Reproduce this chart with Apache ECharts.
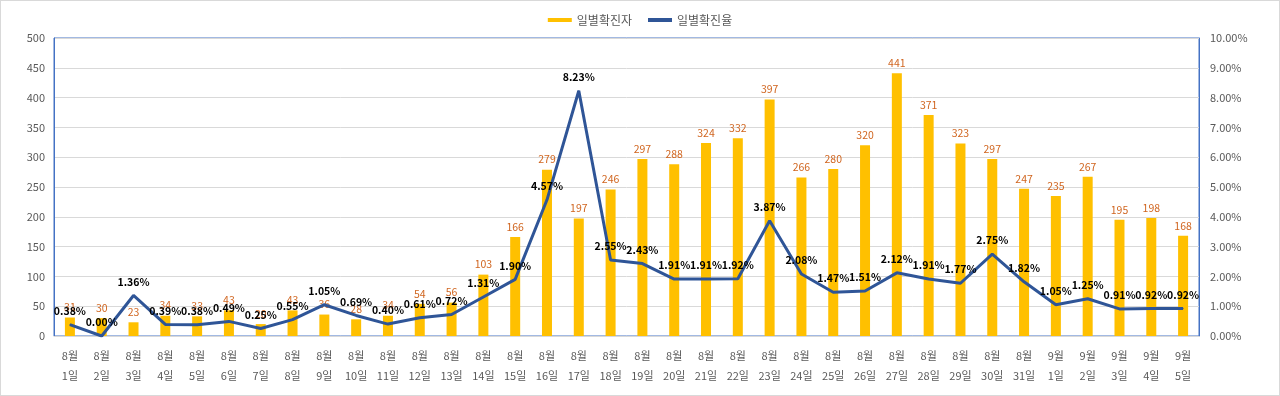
<!DOCTYPE html>
<html>
<head>
<meta charset="utf-8">
<script src="https://cdn.jsdelivr.net/npm/echarts@6/dist/echarts.min.js"></script>
<style>
html, body { margin: 0; padding: 0; background: #fff; }
#chart { width: 1278px; height: 394px; border: 1px solid #d9d9d9; }
</style>
</head>
<body>
<div id="chart"></div>
<script>
var days = ['8월\n1일','8월\n2일','8월\n3일','8월\n4일','8월\n5일','8월\n6일','8월\n7일','8월\n8일','8월\n9일','8월\n10일',
    '8월\n11일','8월\n12일','8월\n13일','8월\n14일','8월\n15일','8월\n16일','8월\n17일','8월\n18일','8월\n19일','8월\n20일',
    '8월\n21일','8월\n22일','8월\n23일','8월\n24일','8월\n25일','8월\n26일','8월\n27일','8월\n28일','8월\n29일','8월\n30일',
    '8월\n31일','9월\n1일','9월\n2일','9월\n3일','9월\n4일','9월\n5일'];
var cases = [31, 30, 23, 34, 33, 43, 20, 43, 36, 28, 34, 54, 56, 103, 166, 279, 197, 246, 297, 288,
    324, 332, 397, 266, 280, 320, 441, 371, 323, 297, 247, 235, 267, 195, 198, 168];
var rate = [0.38, 0.00, 1.36, 0.39, 0.38, 0.49, 0.25, 0.55, 1.05, 0.69, 0.40, 0.61, 0.72, 1.31, 1.90, 4.57, 8.23, 2.55, 2.43, 1.91,
    1.91, 1.92, 3.87, 2.08, 1.47, 1.51, 2.12, 1.91, 1.77, 2.75, 1.82, 1.05, 1.25, 0.91, 0.92, 0.92];

var chart = echarts.init(document.getElementById('chart'));
var font = '"Noto Sans CJK KR", "Noto Sans", sans-serif';
var option = {
    textStyle: { fontFamily: font },
    legend: {
        top: 8,
        left: 'center',
        itemWidth: 24,
        itemHeight: 4,
        itemGap: 16,
        textStyle: { color: '#595959', fontSize: 12, fontFamily: font },
        data: [
            { name: '일별확진자', icon: 'rect' },
            { name: '일별확진율', icon: 'rect' }
        ]
    },
    grid: {
        left: 53, right: 80, top: 37, bottom: 59,
        show: true,
        borderColor: '#4472c4',
        borderWidth: 1
    },
    xAxis: {
        type: 'category',
        data: days,
        axisTick: { show: false },
        axisLine: { lineStyle: { color: '#d9d9d9' } },
        axisLabel: { color: '#595959', fontSize: 11, lineHeight: 20, margin: 10, interval: 0, fontFamily: font }
    },
    yAxis: [
        {
            type: 'value',
            min: 0, max: 500, interval: 50,
            axisLine: { show: true, lineStyle: { color: '#4472c4' } },
            splitLine: { lineStyle: { color: '#d9d9d9' } },
            axisLabel: { color: '#595959', fontSize: 11, margin: 9, fontFamily: font }
        },
        {
            type: 'value',
            min: 0, max: 10, interval: 1,
            axisLine: { show: true, lineStyle: { color: '#4472c4' } },
            splitLine: { show: false },
            axisLabel: {
                color: '#595959', fontSize: 11, margin: 11, fontFamily: font,
                formatter: function (v) { return v.toFixed(2) + '%'; }
            }
        }
    ],
    series: [
        {
            name: '일별확진자',
            type: 'bar',
            data: cases,
            barWidth: 10,
            itemStyle: { color: '#ffc000' },
            label: {
                show: true, position: 'top', distance: 5,
                color: '#d0651f', fontSize: 10.5, fontFamily: font
            },
            labelLayout: { hideOverlap: false }
        },
        {
            name: '일별확진율',
            type: 'line',
            yAxisIndex: 1,
            data: rate,
            symbol: 'circle',
            symbolSize: 1,
            showSymbol: true,
            lineStyle: { color: '#2f5597', width: 3 },
            itemStyle: { color: '#2f5597' },
            label: {
                show: true, position: 'top', distance: 8,
                color: '#000', fontSize: 10.5, fontWeight: 'bold', fontFamily: font,
                formatter: function (p) { return p.value.toFixed(2) + '%'; }
            },
            labelLayout: { hideOverlap: false },
            z: 5
        }
    ]
};
chart.setOption(option);
window.onresize = chart.resize;
</script>
</body>
</html>
